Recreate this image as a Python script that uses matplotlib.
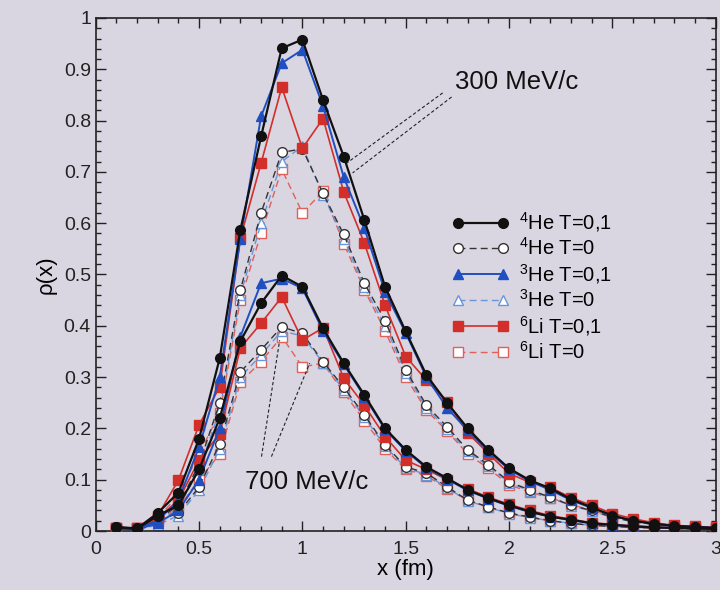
import matplotlib
matplotlib.use("Agg")
import matplotlib.pyplot as plt
from matplotlib.ticker import MultipleLocator

plt.rcParams['font.family'] = ['Liberation Sans', 'DejaVu Sans']
plt.rcParams['mathtext.default'] = 'regular'

# momentum grid (fm)
x = [0.1, 0.2, 0.3, 0.4, 0.5, 0.6, 0.7, 0.8, 0.9, 1.0,
     1.1, 1.2, 1.3, 1.4, 1.5, 1.6, 1.7, 1.8, 1.9, 2.0,
     2.1, 2.2, 2.3, 2.4, 2.5, 2.6, 2.7, 2.8, 2.9, 3.0]

# 300 MeV/c
he4_t01_300 = [0.008, 0.005, 0.035, 0.075, 0.180, 0.337, 0.587, 0.769, 0.941, 0.958,
               0.840, 0.730, 0.606, 0.476, 0.389, 0.304, 0.250, 0.200, 0.158, 0.122,
               0.099, 0.083, 0.062, 0.046, 0.030, 0.020, 0.014, 0.010, 0.008, 0.006]
he4_t0_300 = [0.006, 0.004, 0.022, 0.050, 0.130, 0.250, 0.470, 0.620, 0.738, 0.745,
              0.658, 0.578, 0.483, 0.410, 0.314, 0.245, 0.203, 0.158, 0.129, 0.096,
              0.080, 0.066, 0.050, 0.040, 0.027, 0.018, 0.013, 0.010, 0.008, 0.006]
he3_t01_300 = [0.005, 0.004, 0.020, 0.060, 0.164, 0.300, 0.570, 0.808, 0.912, 0.938,
               0.828, 0.690, 0.590, 0.466, 0.386, 0.300, 0.240, 0.196, 0.155, 0.120,
               0.097, 0.080, 0.060, 0.045, 0.030, 0.020, 0.014, 0.010, 0.008, 0.006]
he3_t0_300 = [0.004, 0.003, 0.015, 0.045, 0.120, 0.235, 0.460, 0.600, 0.720, 0.750,
              0.655, 0.570, 0.475, 0.400, 0.308, 0.240, 0.198, 0.155, 0.126, 0.094,
              0.078, 0.065, 0.049, 0.039, 0.026, 0.018, 0.013, 0.010, 0.008, 0.006]
li6_t01_300 = [0.006, 0.006, 0.030, 0.099, 0.207, 0.281, 0.571, 0.717, 0.865, 0.746,
               0.804, 0.661, 0.561, 0.440, 0.340, 0.294, 0.252, 0.191, 0.151, 0.112,
               0.095, 0.085, 0.065, 0.050, 0.034, 0.024, 0.016, 0.011, 0.009, 0.007]
li6_t0_300 = [0.005, 0.005, 0.025, 0.070, 0.150, 0.230, 0.450, 0.580, 0.705, 0.620,
              0.662, 0.560, 0.470, 0.390, 0.300, 0.235, 0.195, 0.150, 0.122, 0.090,
              0.076, 0.064, 0.052, 0.040, 0.029, 0.020, 0.014, 0.010, 0.008, 0.006]

# 700 MeV/c
he4_t01_700 = [0.007, 0.004, 0.030, 0.050, 0.120, 0.220, 0.370, 0.444, 0.498, 0.476,
               0.395, 0.327, 0.265, 0.200, 0.158, 0.125, 0.103, 0.080, 0.064, 0.050,
               0.038, 0.028, 0.022, 0.015, 0.012, 0.009, 0.007, 0.006, 0.005, 0.004]
he4_t0_700 = [0.005, 0.003, 0.020, 0.035, 0.086, 0.170, 0.310, 0.353, 0.398, 0.385,
              0.330, 0.280, 0.226, 0.168, 0.125, 0.113, 0.086, 0.060, 0.047, 0.035,
              0.027, 0.020, 0.015, 0.011, 0.009, 0.007, 0.006, 0.005, 0.004, 0.004]
he3_t01_700 = [0.004, 0.003, 0.015, 0.040, 0.100, 0.200, 0.379, 0.483, 0.492, 0.473,
               0.390, 0.325, 0.262, 0.198, 0.156, 0.123, 0.101, 0.079, 0.063, 0.049,
               0.037, 0.028, 0.021, 0.015, 0.012, 0.009, 0.007, 0.006, 0.005, 0.004]
he3_t0_700 = [0.003, 0.002, 0.012, 0.030, 0.080, 0.160, 0.300, 0.343, 0.390, 0.380,
              0.328, 0.275, 0.222, 0.165, 0.123, 0.110, 0.084, 0.059, 0.046, 0.034,
              0.026, 0.020, 0.015, 0.011, 0.009, 0.007, 0.006, 0.005, 0.004, 0.004]
li6_t01_700 = [0.006, 0.005, 0.025, 0.060, 0.138, 0.190, 0.357, 0.405, 0.456, 0.372,
               0.396, 0.298, 0.245, 0.184, 0.138, 0.120, 0.100, 0.082, 0.066, 0.052,
               0.040, 0.030, 0.023, 0.016, 0.013, 0.010, 0.008, 0.006, 0.005, 0.004]
li6_t0_700 = [0.005, 0.004, 0.020, 0.045, 0.100, 0.150, 0.290, 0.330, 0.379, 0.320,
              0.327, 0.270, 0.215, 0.160, 0.120, 0.108, 0.082, 0.060, 0.046, 0.035,
              0.027, 0.020, 0.015, 0.011, 0.009, 0.007, 0.006, 0.005, 0.004, 0.004]

labels = [r'$^{4}$He T=0,1', r'$^{4}$He T=0', r'$^{3}$He T=0,1',
          r'$^{3}$He T=0', r'$^{6}$Li T=0,1', r'$^{6}$Li T=0']

BG = '#d9d6e2'
BLACK = '#111111'
BLUE = '#1f4fc0'
LBLUE = '#6a95d8'
RED = '#d22e2a'
PINK = '#e0605a'

styles = [
    dict(color=BLACK, ls='-', lw=1.6, marker='o', mfc=BLACK, mec=BLACK),
    dict(color='#333333', ls=(0, (5, 3)), lw=1.0, marker='o', mfc='white', mec='#333333'),
    dict(color=BLUE, ls='-', lw=1.4, marker='^', mfc=BLUE, mec=BLUE),
    dict(color=LBLUE, ls=(0, (5, 3)), lw=1.0, marker='^', mfc='white', mec=LBLUE),
    dict(color=RED, ls='-', lw=1.2, marker='s', mfc=RED, mec=RED),
    dict(color=PINK, ls=(0, (5, 3)), lw=1.0, marker='s', mfc='white', mec=PINK),
]

sets_300 = [he4_t01_300, he4_t0_300, he3_t01_300, he3_t0_300, li6_t01_300, li6_t0_300]
sets_700 = [he4_t01_700, he4_t0_700, he3_t01_700, he3_t0_700, li6_t01_700, li6_t0_700]

fig = plt.figure(figsize=(7.2, 5.9), dpi=100, facecolor=BG)
ax = fig.add_axes([0.133, 0.100, 0.861, 0.8695])
ax.set_facecolor(BG)

# open (T=0) curves underneath, filled (T=0,1) on top
order = [5, 3, 1, 4, 2, 0]
handles = {}
for i in order:
    st = styles[i]
    z = 3 if i % 2 == 0 else 2
    for data in (sets_700[i], sets_300[i]):
        ln, = ax.plot(x, data, ls=st['ls'], lw=st['lw'], color=st['color'],
                      marker=st['marker'], ms=7, mfc=st['mfc'], mec=st['mec'],
                      mew=1.0, zorder=z)
    handles[i] = ln

ax.set_xlim(0, 3)
ax.set_ylim(0, 1)
ax.xaxis.set_major_locator(MultipleLocator(0.5))
ax.xaxis.set_minor_locator(MultipleLocator(0.1))
ax.yaxis.set_major_locator(MultipleLocator(0.1))
ax.yaxis.set_minor_locator(MultipleLocator(0.02))
ax.xaxis.set_major_formatter(plt.FuncFormatter(lambda v, p: f'{v:g}'))
ax.yaxis.set_major_formatter(plt.FuncFormatter(lambda v, p: f'{v:g}'))
ax.tick_params(which='both', direction='in', top=True, right=True,
               colors='#222222', labelsize=14, width=1.0)
ax.tick_params(which='major', length=7)
ax.tick_params(which='minor', length=3.5)
ax.tick_params(axis='x', pad=7)
for sp in ax.spines.values():
    sp.set_color('#222222')
    sp.set_linewidth(1.2)

ax.set_xlabel('x (fm)', fontsize=16, labelpad=1)
ax.set_ylabel('ρ(x)', fontsize=16, labelpad=5)

# momentum annotations with dashed leader lines
ax.text(1.74, 0.875, '300 MeV/c', fontsize=18.5, va='center', ha='left', color='#111111')
ax.plot([1.679, 1.214], [0.854, 0.717], color='#222222', lw=0.8, ls=(0, (3, 2)), zorder=4)
ax.plot([1.722, 1.243], [0.846, 0.698], color='#222222', lw=0.8, ls=(0, (3, 2)), zorder=4)

ax.text(1.02, 0.095, '700 MeV/c', fontsize=18.5, va='center', ha='center', color='#111111')
ax.plot([0.802, 0.890], [0.145, 0.372], color='#222222', lw=0.8, ls=(0, (3, 2)), zorder=4)
ax.plot([0.850, 1.035], [0.145, 0.327], color='#222222', lw=0.8, ls=(0, (3, 2)), zorder=4)

ax.legend([handles[i] for i in range(6)], labels, loc='upper left',
          bbox_to_anchor=(0.575, 0.625), frameon=False, fontsize=14.5,
          handlelength=2.8, handletextpad=0.5, labelspacing=0.15,
          borderpad=0, borderaxespad=0, numpoints=2, markerscale=1.0)

fig.savefig('out.png', dpi=100, facecolor=BG)
